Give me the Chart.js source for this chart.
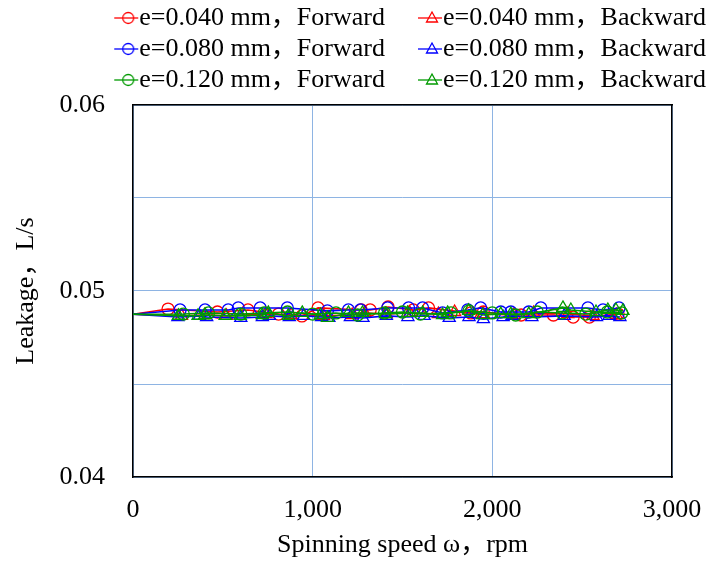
<!DOCTYPE html>
<html><head><meta charset="utf-8">
<script src="https://cdn.jsdelivr.net/npm/chart.js@4.4.1/dist/chart.umd.min.js"></script>
<style>html,body{margin:0;padding:0;background:#fff;}#wrap{width:711px;height:563px;}</style>
</head><body><div id="wrap"><canvas id="c" width="711" height="563"></canvas></div>
<script>
// ---- data (rpm, L/s) ; first point of each series is the line start at 0 rpm ----
const labels = ["e=0.040 mm，Forward","e=0.040 mm，Backward","e=0.080 mm，Forward","e=0.080 mm，Backward","e=0.120 mm，Forward","e=0.120 mm，Backward"];
const xTickValues = [0, 1000, 2000, 3000];
const yTickLabels = ["0.04", "0.05", "0.06"];

const rpmF040  = [0, 195, 470, 640, 810, 940, 1030, 1270, 1320, 1420, 1560, 1645, 1880, 1950, 2160, 2340, 2450, 2540, 2700];
const leakF040 = [0.04875, 0.04903, 0.04887, 0.04898, 0.04876, 0.04866, 0.04909, 0.04898, 0.04898, 0.04914, 0.04898, 0.04909, 0.04882, 0.04887, 0.04871, 0.04871, 0.0486, 0.0486, 0.04876];

const rpmB040  = [0, 270, 400, 520, 740, 880, 1060, 1220, 1290, 1410, 1540, 1700, 1790, 1950, 2120, 2230, 2420, 2560, 2690];
const leakB040 = [0.04875, 0.04866, 0.04871, 0.04866, 0.04876, 0.04871, 0.04866, 0.04871, 0.04882, 0.04876, 0.04882, 0.04876, 0.04887, 0.04876, 0.04871, 0.04882, 0.04876, 0.04866, 0.04871];

const rpmF080  = [0, 262, 401, 530, 586, 708, 859, 1082, 1199, 1266, 1417, 1534, 1612, 1723, 1863, 1935, 2047, 2103, 2203, 2270, 2532, 2616, 2705];
const leakF080 = [0.04875, 0.04898, 0.04898, 0.04898, 0.04909, 0.04909, 0.04909, 0.04893, 0.04898, 0.04898, 0.04909, 0.04909, 0.04909, 0.04882, 0.04898, 0.04909, 0.04887, 0.04887, 0.04887, 0.04909, 0.04909, 0.04898, 0.04909];

const rpmB080  = [0, 250, 370, 410, 600, 720, 760, 870, 950, 1050, 1090, 1210, 1280, 1410, 1530, 1620, 1760, 1870, 1950, 2060, 2110, 2220, 2400, 2580, 2650, 2710];
const leakB080 = [0.04875, 0.0486, 0.04866, 0.0486, 0.04855, 0.0486, 0.04866, 0.0486, 0.04866, 0.0486, 0.04855, 0.0486, 0.04855, 0.04866, 0.0486, 0.04866, 0.04855, 0.0486, 0.04849, 0.0486, 0.04866, 0.0486, 0.04866, 0.0486, 0.04866, 0.0486];

const rpmF120  = [0, 280, 420, 600, 730, 860, 1000, 1130, 1250, 1400, 1500, 1600, 1770, 1870, 2000, 2130, 2250, 2390, 2520, 2640, 2720];
const leakF120 = [0.04875, 0.04876, 0.04882, 0.04876, 0.04882, 0.04887, 0.04876, 0.04882, 0.04871, 0.04882, 0.04887, 0.04876, 0.04882, 0.04893, 0.04882, 0.04871, 0.04887, 0.04882, 0.04876, 0.04887, 0.04882];

const rpmB120  = [0, 253, 362, 401, 513, 597, 719, 753, 864, 942, 1043, 1082, 1199, 1277, 1405, 1528, 1612, 1723, 1751, 1868, 1946, 2047, 2103, 2203, 2393, 2437, 2577, 2643, 2688, 2727];
const leakB120 = [0.04875, 0.04867, 0.04867, 0.04871, 0.04867, 0.04866, 0.04871, 0.04882, 0.04866, 0.04882, 0.04871, 0.04855, 0.04882, 0.04882, 0.04876, 0.04882, 0.04882, 0.04871, 0.04882, 0.04893, 0.04871, 0.04876, 0.04876, 0.04876, 0.04909, 0.04898, 0.04887, 0.04898, 0.04898, 0.04893];

const colors = ["#FF0000", "#FF0000", "#0000FF", "#0000FF", "#009A00", "#009A00"];
const shapes = ["circle", "triangle", "circle", "triangle", "circle", "triangle"];
const xs = [rpmF040, rpmB040, rpmF080, rpmB080, rpmF120, rpmB120];
const ys = [leakF040, leakB040, leakF080, leakB080, leakF120, leakB120];

// legend icons (line with marker)
function makeIcon(color, shape) {
  const W = 90, H = 18, cx = 67, cy = 9;
  const cv = document.createElement('canvas');
  cv.width = W; cv.height = H;
  const g = cv.getContext('2d');
  g.strokeStyle = color; g.lineWidth = 1.3;
  g.beginPath(); g.moveTo(cx - 14, cy); g.lineTo(cx + 10, cy); g.stroke();
  g.beginPath();
  if (shape === 'circle') { g.arc(cx, cy, 5.5, 0, Math.PI * 2); }
  else { g.moveTo(cx, cy - 6); g.lineTo(cx + 5.5, cy + 4); g.lineTo(cx - 5.5, cy + 4); g.closePath(); }
  g.stroke();
  return cv;
}
const icons = colors.map((c, i) => makeIcon(c, shapes[i]));

const datasets = labels.map((lab, i) => ({
  label: lab,
  data: xs[i].map((x, j) => ({x: x, y: ys[i][j]})),
  borderColor: colors[i],
  backgroundColor: 'rgba(0,0,0,0)',
  borderWidth: 1.6,
  pointStyle: shapes[i],
  pointRadius: ctx => ctx.dataIndex === 0 ? 0 : (shapes[i] === 'triangle' ? 7 : 6),
  pointBorderWidth: 1.3,
  pointBorderColor: colors[i],
  pointBackgroundColor: 'rgba(0,0,0,0)',
  tension: 0,
  order: 6 - i
}));

const serif = "'Liberation Serif', 'Noto Sans CJK SC', 'Times New Roman', serif";
const blueGrid = '#8EB4E3';

new Chart(document.getElementById('c'), {
  type: 'line',
  data: { datasets },
  options: {
    responsive: false,
    devicePixelRatio: 1,
    animation: false,
    layout: { padding: { left: 0, right: 0, top: 0, bottom: 0 } },
    plugins: {
      tooltip: { enabled: false },
      legend: {
        position: 'top',
        align: 'end',
        labels: {
          usePointStyle: true,
          pointStyleWidth: 40,
          padding: 5,
          color: '#000',
          font: { family: serif, size: 26 },
          sort: (a, b) => a.datasetIndex - b.datasetIndex,
          generateLabels: chart => {
            const items = Chart.defaults.plugins.legend.labels.generateLabels(chart);
            items.forEach(it => { it.pointStyle = icons[it.datasetIndex]; });
            return items;
          }
        }
      }
    },
    scales: {
      x: {
        type: 'linear', position: 'bottom', min: 0, max: 3000,
        afterBuildTicks: s => { s.ticks = xTickValues.map(v => ({value: v})); },
        ticks: { color: '#000', font: { family: serif, size: 26 }, padding: 18, maxRotation: 0,
                 callback: v => v.toLocaleString('en-US') },
        grid: { color: blueGrid, lineWidth: 1, drawTicks: false },
        border: { display: true, color: '#000', width: 1.5 },
        title: { display: true, text: 'Spinning speed ω，rpm', color: '#000',
                 font: { family: serif, size: 26 }, padding: { top: 0, bottom: 2 } },
        afterFit: s => { s.height = 86; s.paddingRight = 0; s.paddingLeft = 0; }
      },
      y: {
        type: 'linear', position: 'left', min: 0.04, max: 0.06,
        ticks: { stepSize: 0.005, color: '#000', font: { family: serif, size: 26 }, padding: 28,
                 callback: v => { const k = Math.round((v - 0.04) * 100 * 1000) / 1000; return Number.isInteger(k) ? yTickLabels[k] : ''; } },
        grid: { color: blueGrid, lineWidth: 1, drawTicks: false },
        border: { display: true, color: '#000', width: 1.5 },
        title: { display: true, text: 'Leakage，L/s', color: '#000',
                 font: { family: serif, size: 26 }, padding: { top: 11, bottom: 0 } },
        afterFit: s => { s.width = 133; }
      },
      y2: {
        type: 'linear', position: 'right', display: true,
        ticks: { display: false }, grid: { display: false, drawTicks: false },
        border: { display: true, color: '#000', width: 1.5 },
        afterFit: s => { s.width = 39; }
      },
      x2: {
        type: 'linear', position: 'top', display: true,
        ticks: { display: false }, grid: { display: false, drawTicks: false },
        border: { display: true, color: '#000', width: 1.5 },
        afterFit: s => { s.height = 2; s.paddingRight = 0; s.paddingLeft = 0; }
      }
    }
  }
});
</script></body></html>
